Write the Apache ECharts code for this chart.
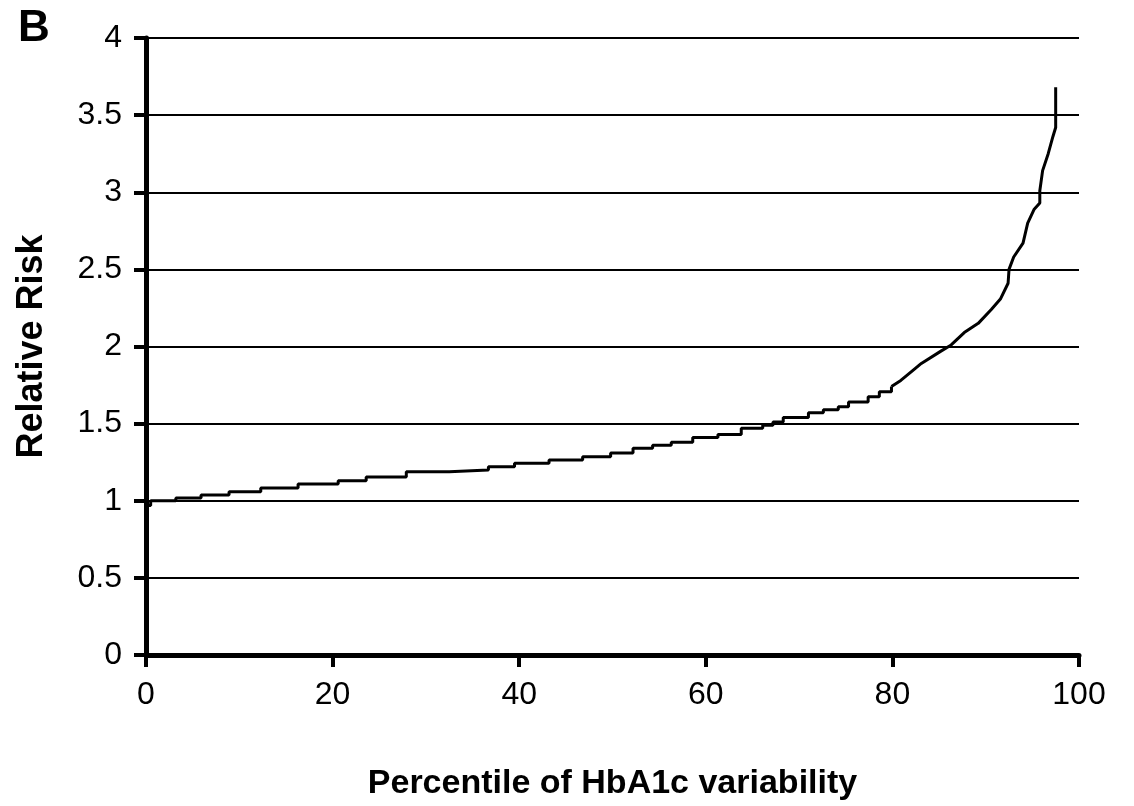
<!DOCTYPE html>
<html>
<head>
<meta charset="utf-8">
<script src="https://cdn.jsdelivr.net/npm/echarts@6/dist/echarts.min.js"></script>
<style>
  html, body { margin: 0; padding: 0; background: #fff; }
  #chart { width: 1134px; height: 806px; }
</style>
</head>
<body>
<div id="chart"></div>
<script>
  // percentile where each step of the curve starts, and the relative risk after it
  var percentile = [0, 0.5, 3.2, 5.9, 8.9, 12.3, 16.3, 20.6, 23.6, 27.9, 32.5, 36.7, 39.5, 43.2,
    46.8, 49.8, 52.2, 54.3, 56.3, 58.6, 61.3, 63.8, 66.1, 67.2, 68.3, 71.0, 72.6, 74.2, 75.3,
    77.4, 78.6, 79.9, 80.9, 82.3, 83.1, 85.2, 86.3, 87.7, 89.2, 90.6, 91.6, 92.4, 92.5, 93.0,
    94.0, 94.5, 95.2, 95.8, 95.8, 96.1, 96.7, 97.2, 97.5, 97.5];
  var relRisk = [0.97, 1.0, 1.018, 1.037, 1.059, 1.083, 1.109, 1.13, 1.154, 1.188, 1.199, 1.221, 1.243, 1.264,
    1.286, 1.31, 1.34, 1.36, 1.38, 1.41, 1.43, 1.47, 1.49, 1.51, 1.54, 1.57, 1.59, 1.61, 1.64,
    1.675, 1.707, 1.74, 1.78, 1.85, 1.89, 1.97, 2.01, 2.09, 2.15, 2.24, 2.31, 2.41, 2.5, 2.58,
    2.67, 2.8, 2.89, 2.93, 3.01, 3.14, 3.25, 3.36, 3.42, 3.68];

  var xTicks = [0, 20, 40, 60, 80, 100];
  var yTicks = [0, 0.5, 1, 1.5, 2, 2.5, 3, 3.5, 4];

  // the flat part is drawn as a staircase, the steep tail as a plain line
  var steepFrom = 80;
  var flatPts = [], steepPts = [];
  for (var i = 0; i < percentile.length; i++) {
    var p = [percentile[i], relRisk[i]];
    if (percentile[i] <= steepFrom) flatPts.push(p);
    if (percentile[i] >= steepFrom - 1) steepPts.push(p);
  }

  var font = '"Liberation Sans", Arial, sans-serif';
  var chart = echarts.init(document.getElementById('chart'));
  chart.setOption({
    animation: false,
    backgroundColor: '#fff',
    graphic: [{
      type: 'text',
      left: 18,
      top: 7,
      style: { text: 'B', font: 'bold 44px ' + font, fill: '#000' }
    }],
    grid: { left: 146, right: 55, top: 38, bottom: 151, containLabel: false },
    xAxis: {
      type: 'value',
      min: xTicks[0],
      max: xTicks[xTicks.length - 1],
      interval: 20,
      name: 'Percentile of HbA1c variability',
      nameLocation: 'middle',
      nameGap: 112,
      nameTextStyle: { fontFamily: font, fontWeight: 'bold', fontSize: 34, color: '#000' },
      axisLine: { show: true, lineStyle: { color: '#000', width: 5 } },
      axisTick: { show: true, length: 12, lineStyle: { color: '#000', width: 4 } },
      axisLabel: { margin: 24, fontFamily: font, fontSize: 32, color: '#000' },
      splitLine: { show: false }
    },
    yAxis: {
      type: 'value',
      min: yTicks[0],
      max: yTicks[yTicks.length - 1],
      interval: 0.5,
      name: 'Relative Risk',
      nameLocation: 'middle',
      nameGap: 96,
      nameTextStyle: { fontFamily: font, fontWeight: 'bold', fontSize: 36, color: '#000' },
      axisLine: { show: true, lineStyle: { color: '#000', width: 5 } },
      axisTick: { show: true, length: 12, lineStyle: { color: '#000', width: 4 } },
      axisLabel: { margin: 24, fontFamily: font, fontSize: 32, color: '#000' },
      splitLine: { show: true, lineStyle: { color: '#000', width: 2 } }
    },
    series: [{
      type: 'line',
      step: 'end',
      data: flatPts,
      symbol: 'none',
      lineStyle: { color: '#000', width: 3 }
    }, {
      type: 'line',
      data: steepPts,
      symbol: 'none',
      lineStyle: { color: '#000', width: 3 }
    }]
  });
</script>
</body>
</html>
